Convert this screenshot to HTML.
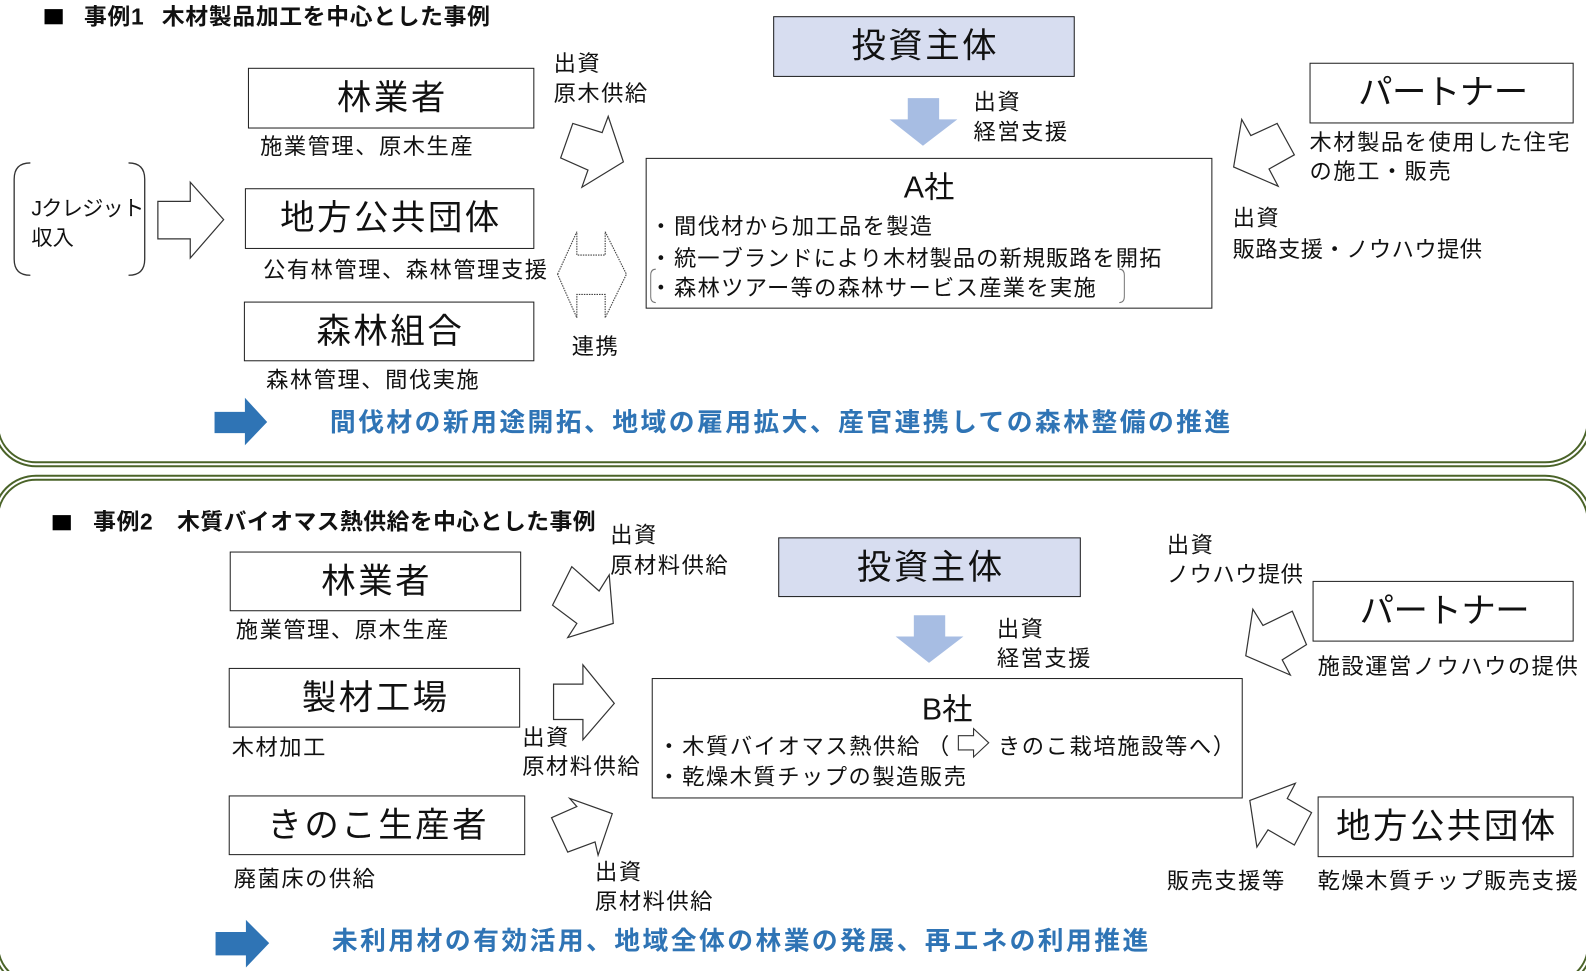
<!DOCTYPE html>
<html><head><meta charset="utf-8">
<style>
html,body{margin:0;padding:0;background:#fff;}
body{width:1586px;height:970px;overflow:hidden;position:relative;font-family:"Liberation Sans","Noto Sans CJK JP",sans-serif;color:#111;}
#w{position:absolute;left:0;top:0;width:1568px;height:959px;transform:scale(1.012);transform-origin:0 0;}
.t{position:absolute;white-space:nowrap;font-size:22px;letter-spacing:1.5px;line-height:26px;}
.box{position:absolute;box-sizing:border-box;border:1.6px solid #1e1e1e;background:#fff;display:flex;align-items:center;justify-content:center;font-size:34px;letter-spacing:2.5px;padding-left:2.5px;line-height:1;white-space:nowrap;}
.inv{background:#d7ddf0;}
.ttl{position:absolute;white-space:nowrap;font-size:22.5px;font-weight:bold;letter-spacing:0.7px;line-height:25px;}
.sq{position:absolute;width:18px;height:15px;background:#000;}
.blue{position:absolute;white-space:nowrap;font-size:25.5px;font-weight:bold;letter-spacing:2.4px;line-height:30px;color:#2f74b5;}
.co{position:absolute;text-align:center;font-size:30px;line-height:34px;white-space:nowrap;}
.bl{position:absolute;white-space:nowrap;font-size:22px;letter-spacing:1.3px;line-height:26px;}
svg{position:absolute;left:0;top:0;overflow:visible;}
</style></head><body>

<svg width="1586" height="970" viewBox="0 0 1586 970">
  <g fill="none">
    <path d="M -4 -100 L -4 424.3 A 40 40 0 0 0 36 464.3 L 1545 464.3 A 45 45 0 0 0 1590 419.3 L 1590 -100" stroke="#4a6328" stroke-width="6"/>
    <path d="M -4 -100 L -4 424.3 A 40 40 0 0 0 36 464.3 L 1545 464.3 A 45 45 0 0 0 1590 419.3 L 1590 -100" stroke="#fff" stroke-width="2"/>
    <path d="M -4 945 L -4 517.7 A 40 40 0 0 1 36 477.7 L 1545 477.7 A 45 45 0 0 1 1590 522.7 L 1590 945 A 40 40 0 0 1 1550 985 L 36 985 A 40 40 0 0 1 -4 945 Z" stroke="#4a6328" stroke-width="6"/>
    <path d="M -4 945 L -4 517.7 A 40 40 0 0 1 36 477.7 L 1545 477.7 A 45 45 0 0 1 1590 522.7 L 1590 945 A 40 40 0 0 1 1550 985 L 36 985 A 40 40 0 0 1 -4 945 Z" stroke="#fff" stroke-width="2"/>
  </g>
</svg>

<div id="w">

<!-- Section 1 -->
<div class="sq" style="left:44px;top:9px;"></div>
<div class="ttl" style="left:83px;top:4px;">事例1</div>
<div class="ttl" style="left:160px;top:4px;">木材製品加工を中心とした事例</div>

<div class="box" style="left:245px;top:67px;width:283px;height:60px;">林業者</div>
<div class="t" style="left:257px;top:132px;">施業管理、原木生産</div>
<div class="box" style="left:242px;top:186px;width:286px;height:60px;">地方公共団体</div>
<div class="t" style="left:260px;top:254px;">公有林管理、森林管理支援</div>
<div class="box" style="left:241px;top:298px;width:287px;height:59px;">森林組合</div>
<div class="t" style="left:263px;top:363px;">森林管理、間伐実施</div>

<div class="t" style="left:31px;top:194px;font-size:21px;letter-spacing:-0.8px;">Jクレジット</div>
<div class="t" style="left:31px;top:223px;font-size:21px;letter-spacing:0;">収入</div>

<div class="t" style="left:547px;top:50px;">出資</div>
<div class="t" style="left:547px;top:80px;">原木供給</div>
<div class="t" style="left:565px;top:330px;">連携</div>

<div class="box inv" style="left:764px;top:16px;width:298px;height:60px;">投資主体</div>
<div class="t" style="left:962px;top:88px;">出資</div>
<div class="t" style="left:962px;top:118px;">経営支援</div>

<div class="box" style="left:638px;top:156px;width:560px;height:149px;"></div>
<div class="co" style="left:638px;width:560px;top:169px;">A社</div>
<div class="bl" style="left:642px;top:211px;">・</div>
<div class="bl" style="left:666px;top:211px;">間伐材から加工品を製造</div>
<div class="bl" style="left:642px;top:243px;">・</div>
<div class="bl" style="left:666px;top:243px;letter-spacing:1px;">統一ブランドにより木材製品の新規販路を開拓</div>
<div class="bl" style="left:642px;top:272px;">・</div>
<div class="bl" style="left:666px;top:272px;">森林ツアー等の森林サービス産業を実施</div>

<div class="box" style="left:1294px;top:62px;width:261px;height:60px;letter-spacing:-0.5px;">パートナー</div>
<div class="t" style="left:1294px;top:128px;">木材製品を使用した住宅</div>
<div class="t" style="left:1294px;top:157px;">の施工・販売</div>
<div class="t" style="left:1218px;top:203px;">出資</div>
<div class="t" style="left:1218px;top:234px;letter-spacing:0.45px;">販路支援・ノウハウ提供</div>

<div class="blue" style="left:326px;top:403px;">間伐材の新用途開拓、地域の雇用拡大、産官連携しての森林整備の推進</div>

<!-- Section 2 -->
<div class="sq" style="left:52px;top:509px;"></div>
<div class="ttl" style="left:92px;top:503px;">事例2</div>
<div class="ttl" style="left:175px;top:503px;letter-spacing:0.5px;">木質バイオマス熱供給を中心とした事例</div>

<div class="t" style="left:603px;top:516px;">出資</div>
<div class="t" style="left:603px;top:546px;">原材料供給</div>

<div class="box" style="left:227px;top:545px;width:288px;height:59px;">林業者</div>
<div class="t" style="left:233px;top:610px;">施業管理、原木生産</div>
<div class="box" style="left:226px;top:660px;width:288px;height:59px;">製材工場</div>
<div class="t" style="left:229px;top:726px;">木材加工</div>
<div class="box" style="left:226px;top:786px;width:293px;height:59px;">きのこ生産者</div>
<div class="t" style="left:231px;top:856px;">廃菌床の供給</div>

<div class="t" style="left:516px;top:716px;">出資</div>
<div class="t" style="left:516px;top:745px;">原材料供給</div>
<div class="t" style="left:588px;top:849px;">出資</div>
<div class="t" style="left:588px;top:878px;">原材料供給</div>

<div class="box inv" style="left:769px;top:531px;width:299px;height:59px;">投資主体</div>
<div class="t" style="left:985px;top:609px;">出資</div>
<div class="t" style="left:985px;top:638px;">経営支援</div>

<div class="box" style="left:644px;top:670px;width:584px;height:119px;"></div>
<div class="co" style="left:644px;width:584px;top:685px;">B社</div>
<div class="bl" style="left:650px;top:725px;">・</div>
<div class="bl" style="left:674px;top:725px;letter-spacing:1.6px;">木質バイオマス熱供給</div>
<div class="bl" style="left:916px;top:725px;">（</div>
<div class="bl" style="left:986px;top:725px;letter-spacing:1.6px;">きのこ栽培施設等へ）</div>
<div class="bl" style="left:650px;top:755px;">・</div>
<div class="bl" style="left:674px;top:755px;letter-spacing:1.5px;">乾燥木質チップの製造販売</div>

<div class="t" style="left:1153px;top:526px;">出資</div>
<div class="t" style="left:1153px;top:555px;letter-spacing:0.5px;">ノウハウ提供</div>
<div class="box" style="left:1297px;top:574px;width:258px;height:60px;letter-spacing:-0.5px;">パートナー</div>
<div class="t" style="left:1302px;top:646px;">施設運営ノウハウの提供</div>

<div class="box" style="left:1302px;top:787px;width:253px;height:60px;">地方公共団体</div>
<div class="t" style="left:1153px;top:858px;">販売支援等</div>
<div class="t" style="left:1302px;top:858px;">乾燥木質チップ販売支援</div>

<div class="blue" style="left:328px;top:915px;">未利用材の有効活用、地域全体の林業の発展、再エネの利用推進</div>

<svg width="1568" height="959" viewBox="0 0 1568 959">
  <!-- J credit brackets -->
  <path d="M 30 161 Q 14 161 14 177 L 14 256 Q 14 272 30 272" fill="none" stroke="#333" stroke-width="1.3"/>
  <path d="M 127 161 Q 143 161 143 177 L 143 256 Q 143 272 127 272" fill="none" stroke="#333" stroke-width="1.3"/>
  <!-- J arrow -->
  <polygon points="156,199 188,199 188,180 221,217 188,255 188,236 156,236" fill="none" stroke="#333" stroke-width="1.2"/>
  <!-- A1 arrow -->
  <polygon points="566,122 595,131 601,115 616,160 575,185 581,168 554,156" fill="none" stroke="#333" stroke-width="1.2"/>
  <!-- double arrow -->
  <polygon points="551,271 570,229 570,252 598,252 598,229 619,271 598,314 598,291 570,291 570,314" fill="none" stroke="#444" stroke-width="1.1" stroke-dasharray="1.5 1"/>
  <!-- down arrow 1 -->
  <polygon points="897,97 928,97 928,118 946,118 912,144 879,118 897,118" fill="#a7bde3"/>
  <!-- A3 arrow -->
  <polygon points="1227,118 1236,134 1262,122 1279,153 1254,167 1263,184 1219,165" fill="none" stroke="#333" stroke-width="1.2"/>
  <!-- A bracket line 3 -->
  <path d="M 648 266 Q 643 266 643 272 L 643 293 Q 643 299 648 299" fill="none" stroke="#777" stroke-width="1"/>
  <path d="M 1106 266 Q 1111 266 1111 272 L 1111 293 Q 1111 299 1106 299" fill="none" stroke="#777" stroke-width="1"/>
  <!-- blue arrow 1 -->
  <polygon points="212,407 242,407 242,393 264,417 242,440 242,428 212,428" fill="#2f74b5"/>

  <!-- section 2 -->
  <polygon points="565,560 592,584 602,568 606,616 561,630 570,616 546,598" fill="none" stroke="#333" stroke-width="1.2"/>
  <polygon points="547,676 576,676 576,657 607,695 576,731 576,711 547,711" fill="none" stroke="#333" stroke-width="1.2"/>
  <polygon points="563,789 605,804 591,845 588,832 561,842 545,808 570,797" fill="none" stroke="#333" stroke-width="1.2"/>
  <polygon points="903,608 934,608 934,629 952,629 918,655 885,629 903,629" fill="#a7bde3"/>
  <polygon points="1238,602 1248,618 1277,604 1291,637 1267,652 1275,667 1231,648" fill="none" stroke="#333" stroke-width="1.2"/>
  <polygon points="1235,791 1280,774 1272,789 1296,803 1279,835 1253,820 1242,837" fill="none" stroke="#333" stroke-width="1.2"/>
  <polygon points="947,727 962,727 962,720 977,734 962,748 962,741 947,741" fill="#fff" stroke="#333" stroke-width="1.1"/>
  <polygon points="213,921 243,921 243,909 266,932 243,956 243,944 213,944" fill="#2f74b5"/>
</svg>
</div>
</body></html>
